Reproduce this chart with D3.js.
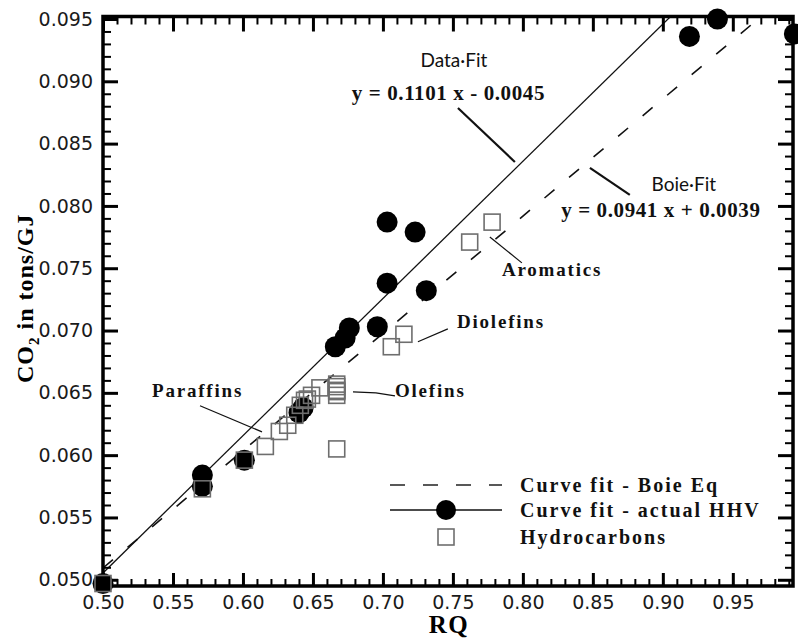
<!DOCTYPE html>
<html>
<head>
<meta charset="utf-8">
<script src="https://cdn.jsdelivr.net/npm/d3@7"></script>
<style>
  html, body { margin: 0; padding: 0; background: #fff; }
  svg { display: block; }
</style>
</head>
<body>
<svg id="chart" width="798" height="642"></svg>
<script>
// Filled circles: CO2 per GJ from actual higher heating values
const hhvRQ  = [0.500, 0.571, 0.571, 0.601, 0.640, 0.643, 0.666, 0.673, 0.676, 0.696, 0.703, 0.703, 0.723, 0.731, 0.919, 0.939, 0.994];
const hhvCO2 = [0.0497, 0.0584, 0.0575, 0.0596, 0.0634, 0.0638, 0.0687, 0.0694, 0.0702, 0.0703, 0.0738, 0.0787, 0.0779, 0.0732, 0.0936, 0.0950, 0.0938];

// Open squares: hydrocarbons (paraffins, olefins, diolefins, aromatics)
const hcRQ  = [0.500, 0.571, 0.601, 0.616, 0.626, 0.632, 0.637, 0.641, 0.644, 0.646, 0.649, 0.655,
               0.667, 0.667, 0.667, 0.667, 0.667, 0.667, 0.706, 0.715, 0.762, 0.778];
const hcCO2 = [0.0497, 0.0573, 0.0596, 0.0607, 0.0619, 0.0624, 0.0632, 0.0640, 0.0644, 0.0645, 0.0648, 0.0654,
               0.0657, 0.0655, 0.0652, 0.0651, 0.0648, 0.0605, 0.0687, 0.0697, 0.0771, 0.0787];

// Linear fits: [slope, intercept]
const dataFit = [0.1101, -0.0045];
const boieFit = [0.0941, 0.0039];

// Axis ticks
const xMajor = [0.50, 0.55, 0.60, 0.65, 0.70, 0.75, 0.80, 0.85, 0.90, 0.95];
const yMajor = [0.050, 0.055, 0.060, 0.065, 0.070, 0.075, 0.080, 0.085, 0.090, 0.095];

// Text annotations with leader lines (data coordinates)
const notes = [
  { text: "Data\u00B7Fit", x: 0.7507, y: 0.0917, anchor: "middle", cls: "sans" },
  { text: "y = 0.1101 x - 0.0045", x: 0.7468, y: 0.0891, anchor: "middle", cls: "eq" },
  { text: "Boie\u00B7Fit", x: 0.915, y: 0.0817, anchor: "middle", cls: "sans" },
  { text: "y = 0.0941 x + 0.0039", x: 0.8986, y: 0.0797, anchor: "middle", cls: "eq" },
  { text: "Aromatics", x: 0.785, y: 0.0749, anchor: "start", cls: "lab" },
  { text: "Diolefins", x: 0.7529, y: 0.0707, anchor: "start", cls: "lab" },
  { text: "Olefins", x: 0.7086, y: 0.0652, anchor: "start", cls: "lab" },
  { text: "Paraffins", x: 0.535, y: 0.0652, anchor: "start", cls: "lab" }
];
const leaders = [
  { pts: [[0.7536, 0.08786], [0.7943, 0.08353]], w: 2.2 },
  { pts: [[0.8479, 0.08305], [0.8764, 0.08088]], w: 2.2 },
  { pts: [[0.7764, 0.07751], [0.7993, 0.07543]], w: 1.2 },
  { pts: [[0.7250, 0.06910], [0.7464, 0.07013]], w: 1.2 },
  { pts: [[0.6786, 0.06508], [0.6950, 0.06500], [0.7086, 0.06476]], w: 1.4 },
  { pts: [[0.5693, 0.06396], [0.6136, 0.06187]], w: 1.2 }
];

const legendItems = ["Curve fit - Boie Eq", "Curve fit - actual HHV", "Hydrocarbons"];

const svg = d3.select("#chart");
const x = d3.scaleLinear().domain([0.5, 0.993]).range([103, 793]);
const y = d3.scaleLinear().domain([0.0495, 0.0952]).range([586, 16.5]);
const [x0, x1] = x.range();
const [y0, y1] = y.range();

const tickFont = "'DejaVu Sans', Verdana, sans-serif";
const serif = "'Liberation Serif', 'Times New Roman', serif";

svg.append("defs").append("clipPath").attr("id", "plot")
  .append("rect").attr("x", x0).attr("y", y1).attr("width", x1 - x0).attr("height", y0 - y1);

// Fit lines
function fitLine(f) {
  const xs = [0.5, 0.993];
  return d3.line().x(d => x(d)).y(d => y(f[0] * d + f[1]))(xs);
}
const lines = svg.append("g").attr("clip-path", "url(#plot)");
lines.append("path").attr("d", fitLine(boieFit)).attr("fill", "none")
  .attr("stroke", "#111").attr("stroke-width", 1.6).attr("stroke-dasharray", "13,19");
lines.append("path").attr("d", fitLine(dataFit)).attr("fill", "none")
  .attr("stroke", "#111").attr("stroke-width", 1.3);

// Axes: minor and major ticks on all four sides, pointing inward
const xMinor = d3.range(50, 100).map(v => v / 100).filter(v => v % 0.05 > 1e-6 && 0.05 - (v % 0.05) > 1e-6);
const yMinor = d3.range(50, 96).map(v => v / 1000).filter(v => Math.abs(Math.round(v * 200) - v * 200) > 1e-6);

function styleAxis(g, w) {
  g.select(".domain").remove();
  g.selectAll(".tick line").attr("stroke", "#000").attr("stroke-width", w);
  g.selectAll(".tick text").attr("fill", "#1a1a1a").style("font-family", tickFont).style("font-size", "19px");
}

const axes = svg.append("g");
axes.append("g").attr("transform", `translate(0,${y0})`)
  .call(d3.axisBottom(x).tickValues(xMinor).tickSize(-7).tickFormat(""))
  .call(g => styleAxis(g, 2));
axes.append("g").attr("transform", `translate(0,${y0})`)
  .call(d3.axisBottom(x).tickValues(xMajor).tickSize(-13).tickPadding(10).tickFormat(d3.format(".2f")))
  .call(g => styleAxis(g, 3));
axes.append("g").attr("transform", `translate(0,${y1})`)
  .call(d3.axisTop(x).tickValues(xMinor).tickSize(-8).tickFormat(""))
  .call(g => styleAxis(g, 2));
axes.append("g").attr("transform", `translate(0,${y1})`)
  .call(d3.axisTop(x).tickValues(xMajor).tickSize(-15).tickFormat(""))
  .call(g => styleAxis(g, 3));
axes.append("g").attr("transform", `translate(${x0},0)`)
  .call(d3.axisLeft(y).tickValues(yMinor).tickSize(-8).tickFormat(""))
  .call(g => styleAxis(g, 2));
axes.append("g").attr("transform", `translate(${x0},0)`)
  .call(d3.axisLeft(y).tickValues(yMajor).tickSize(-15).tickPadding(10).tickFormat(d3.format(".3f")))
  .call(g => styleAxis(g, 3));
axes.append("g").attr("transform", `translate(${x1},0)`)
  .call(d3.axisRight(y).tickValues(yMinor).tickSize(-8).tickFormat(""))
  .call(g => styleAxis(g, 2));
axes.append("g").attr("transform", `translate(${x1},0)`)
  .call(d3.axisRight(y).tickValues(yMajor).tickSize(-15).tickFormat(""))
  .call(g => styleAxis(g, 3));
axes.append("rect").attr("x", x0).attr("y", y1).attr("width", x1 - x0).attr("height", y0 - y1)
  .attr("fill", "none").attr("stroke", "#000").attr("stroke-width", 3.5);

// Axis titles
svg.append("text").attr("x", (x0 + x1) / 2 + 1).attr("y", 633).attr("text-anchor", "middle")
  .style("font-family", serif).style("font-weight", "bold").style("font-size", "25px")
  .style("letter-spacing", "1.5px").text("RQ");
const yt = svg.append("text")
  .attr("transform", `translate(33,${(y0 + y1) / 2 - 3}) rotate(-90)`).attr("text-anchor", "middle")
  .style("font-family", serif).style("font-weight", "bold").style("font-size", "24px")
  .style("letter-spacing", "1px");
yt.append("tspan").text("CO");
yt.append("tspan").attr("dy", 6).style("font-size", "15px").text("2");
yt.append("tspan").attr("dy", -6).text(" in tons/GJ");

// Leader lines and labels
const ann = svg.append("g");
leaders.forEach(l => {
  ann.append("path").attr("d", d3.line().x(p => x(p[0])).y(p => y(p[1]))(l.pts))
    .attr("fill", "none").attr("stroke", "#111").attr("stroke-width", l.w);
});
ann.selectAll("text.note").data(notes).join("text")
  .attr("x", d => x(d.x)).attr("y", d => y(d.y)).attr("dy", "0.35em")
  .attr("text-anchor", d => d.anchor)
  .each(function (d) {
    const t = d3.select(this);
    if (d.cls === "sans") {
      t.style("font-family", "Lato, 'Open Sans', sans-serif").style("font-size", "19px").attr("fill", "#111");
    } else if (d.cls === "eq") {
      t.style("font-family", serif).style("font-weight", "bold").style("font-size", "21px")
        .style("letter-spacing", "0.6px").attr("fill", "#111");
    } else {
      t.style("font-family", serif).style("font-weight", "bold").style("font-size", "19px")
        .style("letter-spacing", "1.8px").attr("fill", "#111");
    }
  })
  .text(d => d.text);

// Data points
const hhv = hhvRQ.map((v, i) => ({ rq: v, co2: hhvCO2[i] }));
const hc = hcRQ.map((v, i) => ({ rq: v, co2: hcCO2[i] }));
const SQ = 16;
svg.append("g").selectAll("circle").data(hhv).join("circle")
  .attr("cx", d => x(d.rq)).attr("cy", d => y(d.co2)).attr("r", 10.5).attr("fill", "#000");
svg.append("g").selectAll("rect").data(hc).join("rect")
  .attr("x", d => x(d.rq) - SQ / 2).attr("y", d => y(d.co2) - SQ / 2)
  .attr("width", SQ).attr("height", SQ)
  .attr("fill", "none").attr("stroke", "#6e6e6e").attr("stroke-width", 1.6);

// Legend
const lg = svg.append("g");
const lgX0 = 390, lgX1 = 502, lgMid = 446, lgText = 520, lgRows = [485, 510, 537];
lg.append("line").attr("x1", lgX0).attr("x2", lgX1).attr("y1", lgRows[0]).attr("y2", lgRows[0])
  .attr("stroke", "#222").attr("stroke-width", 1.6).attr("stroke-dasharray", "15,18");
lg.append("line").attr("x1", lgX0).attr("x2", lgX1).attr("y1", lgRows[1]).attr("y2", lgRows[1])
  .attr("stroke", "#111").attr("stroke-width", 1.6);
lg.append("circle").attr("cx", lgMid).attr("cy", lgRows[1]).attr("r", 10).attr("fill", "#000");
lg.append("rect").attr("x", lgMid - SQ / 2).attr("y", lgRows[2] - SQ / 2).attr("width", SQ).attr("height", SQ)
  .attr("fill", "none").attr("stroke", "#6e6e6e").attr("stroke-width", 1.6);
lg.selectAll("text").data(legendItems).join("text")
  .attr("x", lgText).attr("y", (d, i) => lgRows[i]).attr("dy", "0.35em")
  .style("font-family", serif).style("font-weight", "bold").style("font-size", "20px")
  .style("letter-spacing", "2px").attr("fill", "#111")
  .text(d => d);
</script>
</body>
</html>
